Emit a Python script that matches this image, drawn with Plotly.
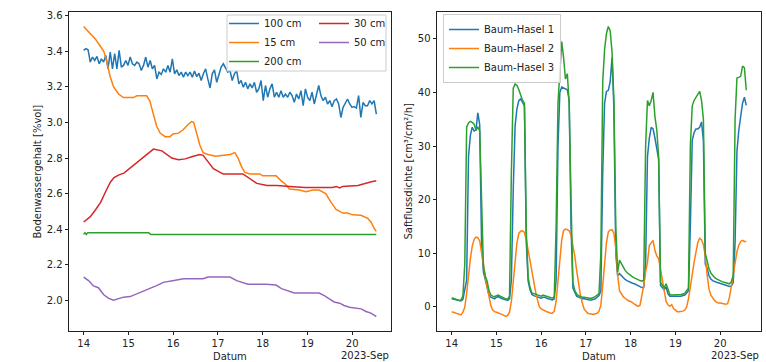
import pandas as pd
import plotly.graph_objects as go

# ---------------- Soil water content (left panel) ----------------
# day-of-month (September 2023) for the smoother series
t_15cm = [14.0, 14.11, 14.26, 14.37, 14.45, 14.52, 14.59, 14.67, 14.78, 14.89, 15.11, 15.19, 15.41, 15.48,
          15.56, 15.63, 15.71, 15.82, 15.93, 16.0, 16.12, 16.23, 16.34, 16.41, 16.46, 16.52, 16.6, 16.67,
          16.78, 16.95, 17.27, 17.38, 17.45, 17.53, 17.6, 17.71, 17.94, 18.0, 18.3, 18.42, 18.5, 18.6,
          18.82, 18.97, 19.12, 19.26, 19.41, 19.53, 19.64, 19.79, 19.9, 20.01, 20.2, 20.35, 20.42, 20.5, 20.54]
v_15cm = [3.54, 3.51, 3.47, 3.43, 3.40, 3.34, 3.26, 3.20, 3.16, 3.14, 3.14, 3.15, 3.15, 3.12,
          3.05, 2.98, 2.94, 2.92, 2.92, 2.935, 2.94, 2.96, 2.99, 3.005, 3.0, 2.94, 2.87, 2.83,
          2.82, 2.81, 2.82, 2.83, 2.80, 2.75, 2.72, 2.71, 2.71, 2.70, 2.70, 2.67, 2.655, 2.625,
          2.62, 2.61, 2.62, 2.62, 2.60, 2.55, 2.51, 2.49, 2.49, 2.48, 2.478, 2.46, 2.44, 2.40, 2.387]

t_30cm = [14.0, 14.15, 14.27, 14.38, 14.49, 14.6, 14.68, 14.79, 14.9, 15.0, 15.3, 15.56, 15.75, 15.97,
          16.12, 16.27, 16.45, 16.6, 16.67, 16.78, 16.9, 17.04, 17.12, 17.56, 17.72, 17.87, 18.1, 18.32,
          18.61, 18.94, 19.56, 19.65, 19.72, 19.79, 20.13, 20.28, 20.43, 20.54]
v_30cm = [2.44, 2.47, 2.51, 2.55, 2.61, 2.665, 2.69, 2.705, 2.715, 2.735, 2.795, 2.85, 2.84, 2.80,
          2.79, 2.795, 2.81, 2.82, 2.815, 2.78, 2.74, 2.72, 2.71, 2.71, 2.685, 2.657, 2.645, 2.645,
          2.64, 2.634, 2.634, 2.64, 2.632, 2.64, 2.645, 2.657, 2.666, 2.672]

t_200cm = [14.0, 14.03, 14.06, 14.09, 14.12, 15.45, 15.5, 20.54]
v_200cm = [2.37, 2.38, 2.37, 2.38, 2.38, 2.38, 2.37, 2.37]

t_50cm = [14.0, 14.11, 14.22, 14.33, 14.45, 14.56, 14.67, 14.78, 14.89, 15.04, 15.19, 15.34, 15.48, 15.63,
          15.78, 15.93, 16.08, 16.23, 16.67, 16.78, 17.27, 17.42, 17.56, 17.67, 18.08, 18.3, 18.42, 18.57,
          18.71, 19.26, 19.38, 19.49, 19.6, 19.72, 19.82, 19.94, 20.05, 20.2, 20.31, 20.42, 20.5, 20.54]
v_50cm = [2.13, 2.11, 2.08, 2.07, 2.03, 2.01, 2.0, 2.007, 2.017, 2.02, 2.035, 2.054, 2.064, 2.082,
          2.10, 2.105, 2.114, 2.12, 2.12, 2.13, 2.13, 2.11, 2.10, 2.09, 2.09, 2.085, 2.065, 2.054,
          2.04, 2.04, 2.026, 2.007, 1.99, 1.983, 1.97, 1.96, 1.955, 1.951, 1.936, 1.927, 1.914, 1.908]

# 100 cm, regularly sampled from 14 Sep 00:00 to 20 Sep 13:00
v_100cm = [3.406, 3.415, 3.409, 3.340, 3.368, 3.349, 3.372, 3.330, 3.358, 3.340,
           3.377, 3.302, 3.396, 3.302, 3.387, 3.302, 3.406, 3.311, 3.321, 3.349,
           3.321, 3.368, 3.330, 3.321, 3.340, 3.330, 3.292, 3.321, 3.368, 3.311,
           3.349, 3.302, 3.321, 3.245, 3.283, 3.270, 3.302, 3.283, 3.321, 3.283,
           3.358, 3.274, 3.296, 3.264, 3.283, 3.255, 3.283, 3.264, 3.283, 3.255,
           3.289, 3.258, 3.277, 3.236, 3.274, 3.302, 3.245, 3.194, 3.274, 3.296,
           3.226, 3.264, 3.311, 3.330, 3.302, 3.283, 3.292, 3.236, 3.274, 3.292,
           3.217, 3.236, 3.198, 3.226, 3.189, 3.217, 3.194, 3.226, 3.170, 3.189,
           3.236, 3.123, 3.208, 3.142, 3.189, 3.217, 3.142, 3.170, 3.142, 3.179,
           3.142, 3.160, 3.142, 3.170, 3.151, 3.113, 3.160, 3.132, 3.179, 3.094,
           3.189, 3.142, 3.123, 3.170, 3.104, 3.151, 3.208, 3.151, 3.123, 3.142,
           3.104, 3.123, 3.089, 3.123, 3.132, 3.104, 3.028, 3.085, 3.113, 3.132,
           3.104, 3.085, 3.089, 3.081, 3.151, 3.028, 3.113, 3.094, 3.094, 3.123,
           3.104, 3.123, 3.047]

# ---------------- Sap flow density (right panel), hourly from 14 Sep 00:00 ----------------
hasel_1 = [
    1.5, 1.4, 1.3, 1.2, 1.1, 1.1, 1.4, 3.0, 5.0, 28.0, 32.0, 33.5, 32.8, 33.0, 36.2, 34.0, 12.0, 6.5, 5.2, 4.0, 2.2, 1.8, 1.6, 1.5,
    1.8, 1.9, 1.7, 1.5, 1.4, 1.3, 1.2, 1.5, 5.0, 22.0, 33.8, 37.0, 38.5, 38.8, 38.2, 37.5, 12.0, 4.8, 3.2, 2.3, 2.1, 2.0, 1.9, 1.8,
    1.6, 1.8, 1.8, 1.6, 1.5, 1.4, 1.3, 1.5, 5.0, 30.0, 40.0, 41.0, 40.8, 40.6, 40.5, 38.5, 15.0, 3.5, 2.6, 2.0, 1.8, 1.6, 1.5, 1.5,
    1.4, 1.4, 1.3, 1.3, 1.4, 1.5, 1.8, 2.1, 3.0, 25.0, 38.0, 40.2, 40.4, 42.0, 46.5, 37.0, 10.0, 5.8, 6.2, 5.8, 5.4, 5.1, 4.9, 4.7,
    4.6, 4.4, 4.3, 4.1, 3.9, 3.8, 3.6, 3.6, 8.0, 28.0, 31.5, 33.5, 33.2, 31.5, 29.5, 27.5, 4.0, 3.6, 3.2, 3.7, 2.4, 2.0, 2.0, 1.9,
    1.9, 1.9, 1.9, 2.0, 2.1, 2.2, 2.6, 3.0, 15.0, 31.0, 32.5, 33.2, 33.2, 33.5, 34.5, 31.0, 8.0, 7.2, 5.8, 5.2, 4.9, 4.7, 4.6, 4.5,
    4.4, 4.2, 4.1, 4.0, 3.9, 3.8, 3.9, 4.5, 12.0, 29.0, 33.0, 36.0, 38.0, 39.1, 37.6]
hasel_2 = [
    -0.9, -1.0, -1.1, -1.2, -1.4, -1.5, -1.0, -0.1, 2.5, 6.5, 9.0, 11.3, 12.6, 13.0, 12.9, 12.3, 10.5, 8.0, 5.5, 3.6, 1.8, 0.2, -0.6, -0.9,
    -1.0, -1.1, -1.2, -1.4, -1.6, -1.8, -1.6, -1.0, 1.0, 4.5, 8.5, 12.0, 13.7, 14.1, 14.2, 13.9, 12.5, 10.5, 8.6, 6.2, 4.4, 2.8, 1.3, 0.0,
    -0.4, -0.6, -0.7, -0.9, -1.0, -1.2, -1.2, -0.8, 1.0, 4.5, 9.0, 12.5, 14.2, 14.5, 14.4, 14.2, 13.3, 11.5, 9.5, 6.8, 4.2, 2.3, 0.8, -0.4,
    -0.8, -1.2, -1.3, -1.4, -1.4, -1.3, -1.2, -0.8, 0.3, 4.0, 8.0, 12.0, 14.0, 14.3, 14.4, 13.7, 11.0, 6.0, 3.0, 2.4, 1.9, 1.6, 1.3, 1.1,
    1.0, 0.7, 0.5, 0.3, 0.1, 0.3, 2.0, 4.0, 6.5, 8.3, 11.5, 12.0, 12.4, 10.5, 9.5, 9.0, 7.0, 4.5, 2.8, 1.0, 0.4, 0.1, 0.4, -0.3,
    -0.6, -0.9, -0.9, -0.9, -0.8, -0.6, 0.0, 1.5, 3.5, 6.0, 8.3, 10.5, 12.0, 12.8, 12.5, 11.6, 9.5, 6.0, 3.3, 2.2, 1.6, 1.2, 0.9, 0.7,
    0.7, 0.6, 0.6, 0.5, 0.6, 1.8, 3.8, 6.0, 8.5, 10.3, 11.5, 12.2, 12.4, 12.2, 12.2]
hasel_3 = [
    1.7, 1.6, 1.5, 1.4, 1.2, 1.3, 2.0, 8.0, 33.5, 34.3, 34.6, 34.4, 34.1, 33.0, 33.5, 32.8, 22.0, 7.5, 5.8, 4.8, 3.0, 2.2, 2.0, 1.9,
    2.1, 2.2, 2.0, 1.8, 1.6, 1.5, 1.4, 2.0, 25.0, 40.8, 41.6, 41.3, 40.5, 39.5, 38.5, 38.0, 14.0, 5.5, 3.6, 2.6, 2.5, 2.4, 2.3, 2.2,
    2.0, 2.2, 2.1, 1.9, 1.8, 1.7, 1.6, 1.9, 15.0, 38.0, 45.0, 49.5, 46.5, 42.5, 43.5, 38.0, 20.0, 4.5, 3.1, 2.4, 2.1, 1.9, 1.8, 1.8,
    1.7, 1.7, 1.6, 1.6, 1.7, 1.9, 2.2, 2.5, 10.0, 42.0, 48.0, 51.0, 52.3, 51.5, 47.5, 38.5, 15.0, 6.5, 8.7, 8.0, 7.3, 6.8, 6.4, 6.1,
    5.8, 5.6, 5.4, 5.2, 5.0, 4.9, 4.8, 5.0, 30.0, 38.5, 37.5, 38.5, 40.0, 35.5, 33.0, 28.0, 4.5, 4.0, 3.6, 4.3, 3.2, 2.3, 2.2, 2.2,
    2.2, 2.2, 2.2, 2.3, 2.4, 2.5, 3.0, 3.5, 30.0, 37.5, 38.5, 39.0, 39.7, 40.2, 38.5, 35.0, 10.0, 8.3, 7.1, 6.3, 5.8, 5.5, 5.2, 5.0,
    4.9, 4.7, 4.6, 4.5, 4.4, 4.3, 4.7, 5.9, 35.0, 42.7, 42.8, 43.0, 44.9, 44.6, 40.4]

tick_days = [14, 15, 16, 17, 18, 19, 20]
tick_labels = [str(d) for d in tick_days]

TAB = {"blue": "#1f77b4", "orange": "#ff7f0e", "green": "#2ca02c", "red": "#d62728", "purple": "#9467bd"}
FONT = "DejaVu Sans, Arial, sans-serif"
W, H = 766, 362


def day_to_ts(days):
    base = pd.Timestamp("2023-09-01")
    return [base + pd.Timedelta(days=d - 1) for d in days]


t_100cm = pd.date_range("2023-09-14 00:00", "2023-09-20 13:00", periods=len(v_100cm))
t_sap = pd.date_range("2023-09-14 00:00", periods=len(hasel_1), freq="h")


def pad_range(lo, hi, frac=0.05):
    p = (hi - lo) * frac
    return [lo - p, hi + p]


def pad_dates(ts_list):
    lo, hi = min(ts_list), max(ts_list)
    p = (hi - lo) * 0.05
    return [str(lo - p), str(hi + p)]


fig = go.Figure()
lw = 1.5
fig.add_trace(go.Scatter(x=t_100cm, y=v_100cm, mode="lines", name="100 cm", line=dict(color=TAB["blue"], width=lw),
                         xaxis="x", yaxis="y", legend="legend", legendrank=1))
fig.add_trace(go.Scatter(x=day_to_ts(t_15cm), y=v_15cm, mode="lines", name="15 cm", line=dict(color=TAB["orange"], width=lw),
                         xaxis="x", yaxis="y", legend="legend", legendrank=2))
fig.add_trace(go.Scatter(x=day_to_ts(t_200cm), y=v_200cm, mode="lines", name="200 cm", line=dict(color=TAB["green"], width=lw),
                         xaxis="x", yaxis="y", legend="legend", legendrank=3))
fig.add_trace(go.Scatter(x=day_to_ts(t_30cm), y=v_30cm, mode="lines", name="30 cm", line=dict(color=TAB["red"], width=lw),
                         xaxis="x", yaxis="y", legend="legend2", legendrank=4))
fig.add_trace(go.Scatter(x=day_to_ts(t_50cm), y=v_50cm, mode="lines", name="50 cm", line=dict(color=TAB["purple"], width=lw),
                         xaxis="x", yaxis="y", legend="legend2", legendrank=5))

fig.add_trace(go.Scatter(x=t_sap, y=hasel_1, mode="lines", name="Baum-Hasel 1", line=dict(color=TAB["blue"], width=lw),
                         xaxis="x2", yaxis="y2", legend="legend3"))
fig.add_trace(go.Scatter(x=t_sap, y=hasel_2, mode="lines", name="Baum-Hasel 2", line=dict(color=TAB["orange"], width=lw),
                         xaxis="x2", yaxis="y2", legend="legend3"))
fig.add_trace(go.Scatter(x=t_sap, y=hasel_3, mode="lines", name="Baum-Hasel 3", line=dict(color=TAB["green"], width=lw),
                         xaxis="x2", yaxis="y2", legend="legend3"))

soil_all = v_15cm + v_30cm + v_200cm + v_50cm + v_100cm
sap_all = hasel_1 + hasel_2 + hasel_3
left_times = list(t_100cm) + day_to_ts(t_15cm) + day_to_ts(t_30cm) + day_to_ts(t_200cm) + day_to_ts(t_50cm)
tickvals = day_to_ts(tick_days)

axis_common = dict(showline=True, mirror=True, linecolor="#222", linewidth=0.9, ticks="outside", ticklen=3.5,
                   tickwidth=0.9, tickcolor="#222", showgrid=False, zeroline=False,
                   tickfont=dict(family=FONT, size=10, color="#222"))

x_left = [69 / W, 391 / W]
x_right = [437 / W, 761 / W]
y_dom = [1 - 331 / H, 1 - 12 / H]

fig.update_layout(
    width=W, height=H, template="none",
    paper_bgcolor="white", plot_bgcolor="white",
    margin=dict(l=0, r=0, t=0, b=0),
    font=dict(family=FONT, size=10, color="#222"),
    xaxis=dict(domain=x_left, anchor="y", type="date", range=pad_dates(left_times),
               tickmode="array", tickvals=tickvals, ticktext=tick_labels, **axis_common),
    yaxis=dict(domain=y_dom, anchor="x", range=pad_range(min(soil_all), max(soil_all)),
               dtick=0.2, tick0=2.0, tickformat=".1f", **axis_common),
    xaxis2=dict(domain=x_right, anchor="y2", type="date", range=pad_dates(list(t_sap)),
                tickmode="array", tickvals=tickvals, ticktext=tick_labels, **axis_common),
    yaxis2=dict(domain=y_dom, anchor="x2", range=pad_range(min(sap_all), max(sap_all)),
                dtick=10, tick0=0, **axis_common),
    legend=dict(x=224 / W, y=1 - 9 / H, xanchor="left", yanchor="top", bgcolor="rgba(0,0,0,0)",
                borderwidth=0, font=dict(family=FONT, size=10, color="#222"), tracegroupgap=0),
    legend2=dict(x=314 / W, y=1 - 9 / H, xanchor="left", yanchor="top", bgcolor="rgba(0,0,0,0)",
                 borderwidth=0, font=dict(family=FONT, size=10, color="#222"), tracegroupgap=0),
    legend3=dict(x=443 / W, y=1 - 14 / H, xanchor="left", yanchor="top", bgcolor="rgba(255,255,255,0.8)",
                 bordercolor="#cccccc", borderwidth=1, font=dict(family=FONT, size=10, color="#222"),
                 tracegroupgap=0),
    showlegend=True,
)

# frame shared by the two left legend columns
fig.add_shape(type="rect", xref="paper", yref="paper", x0=227 / W, x1=386 / W, y0=1 - 71 / H, y1=1 - 15 / H,
              line=dict(color="#cccccc", width=1), fillcolor="rgba(255,255,255,0.8)", layer="above")

ann = []
ann.append(dict(text="Bodenwassergehalt [%vol]", x=37 / W, y=1 - 171.5 / H, xref="paper", yref="paper",
                textangle=-90, showarrow=False, xanchor="center", yanchor="middle", font=dict(size=10)))
ann.append(dict(text="Saftflussdichte [cm³/cm²/h]", x=408 / W, y=1 - 171.5 / H, xref="paper", yref="paper",
                textangle=-90, showarrow=False, xanchor="center", yanchor="middle", font=dict(size=10)))
ann.append(dict(text="Datum", x=230 / W, y=1 - 356 / H, xref="paper", yref="paper", showarrow=False,
                xanchor="center", yanchor="middle", font=dict(size=10)))
ann.append(dict(text="Datum", x=599 / W, y=1 - 356 / H, xref="paper", yref="paper", showarrow=False,
                xanchor="center", yanchor="middle", font=dict(size=10)))
ann.append(dict(text="2023-Sep", x=391 / W, y=1 - 355 / H, xref="paper", yref="paper", showarrow=False,
                xanchor="right", yanchor="middle", font=dict(size=10)))
ann.append(dict(text="2023-Sep", x=761 / W, y=1 - 355 / H, xref="paper", yref="paper", showarrow=False,
                xanchor="right", yanchor="middle", font=dict(size=10)))
fig.update_layout(annotations=ann)

fig.write_html("out.html", config={"displayModeBar": False},
               post_script="document.body.style.margin='0px';document.body.style.overflow='hidden';")
